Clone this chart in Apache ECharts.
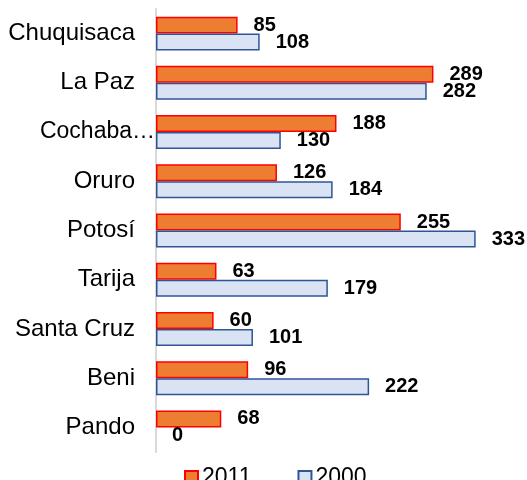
<!DOCTYPE html>
<html>
<head>
    <meta charset="UTF-8">
    <title></title>
    <style type="text/css">
        html, body { margin: 0; padding: 0; background: #fff; }
        #main1 { width: 527px; height: 480px; }
    </style>
</head>
<body>
<div id="main1"></div>
<script type="text/javascript" src="https://cdn.jsdelivr.net/npm/echarts@6/dist/echarts.min.js"></script>
<script type="text/javascript">
    var departments = ['Chuquisaca', 'La Paz', 'Cochabamba', 'Oruro', 'Potosí', 'Tarija', 'Santa Cruz', 'Beni', 'Pando'];
    var values2011 = [85, 289, 188, 126, 255, 63, 60, 96, 68];
    var values2000 = [108, 282, 130, 184, 333, 179, 101, 222, 0];

    var labelStyle = {
        show: true,
        position: 'right',
        distance: 16,
        color: '#000',
        fontFamily: 'Arial, "Liberation Sans"',
        fontWeight: 'bold',
        fontSize: 20
    };

    // a zero bar should not leave a border line on the axis
    function noEmptyBorder(arr) {
        return arr.map(function (v) {
            return v === 0 ? {value: v, itemStyle: {borderWidth: 0}} : v;
        });
    }

    var myChart1 = echarts.init(document.getElementById('main1'));
    var option1 = {
        animation: false,
        grid: {left: 156, right: 35, top: 9, bottom: 28},
        legend: {
            top: 461,
            left: 179,
            icon: 'rect',
            itemWidth: 13,
            itemHeight: 13,
            itemGap: 46,
            textStyle: {fontSize: 23, color: '#000', fontFamily: 'Arial, "Liberation Sans"', padding: [0, 0, 0, -1]},
            data: ['2011', '2000']
        },
        xAxis: {
            type: 'value',
            min: 0,
            max: 350,
            show: false
        },
        yAxis: {
            type: 'category',
            inverse: true,
            data: departments,
            axisLine: {show: true, lineStyle: {color: '#D9D9D9', width: 2}},
            axisTick: {show: false},
            axisLabel: {
                margin: 1,
                formatter: function (v) {
                    // the long name is cut like in the original
                    if (v === 'Cochabamba') return '{t|Cochaba…}';
                    return '{n|' + v + '}';
                },
                rich: {
                    n: {fontSize: 24, color: '#000', fontFamily: 'Arial, "Liberation Sans"', padding: [0, 20, 0, 0]},
                    t: {fontSize: 23, color: '#000', fontFamily: 'Arial, "Liberation Sans"', padding: [0, 0, 0, 0]}
                }
            }
        },
        series: [{
            name: '2011',
            type: 'bar',
            data: noEmptyBorder(values2011),
            barGap: '0%',
            barCategoryGap: '31%',
            itemStyle: {color: '#ED7D31', borderColor: '#FF0000', borderWidth: 1.5},
            label: labelStyle
        }, {
            name: '2000',
            type: 'bar',
            data: noEmptyBorder(values2000),
            itemStyle: {color: '#DAE3F3', borderColor: '#2F5597', borderWidth: 1.5},
            label: labelStyle
        }]
    };
    myChart1.setOption(option1);
</script>
</body>
</html>
